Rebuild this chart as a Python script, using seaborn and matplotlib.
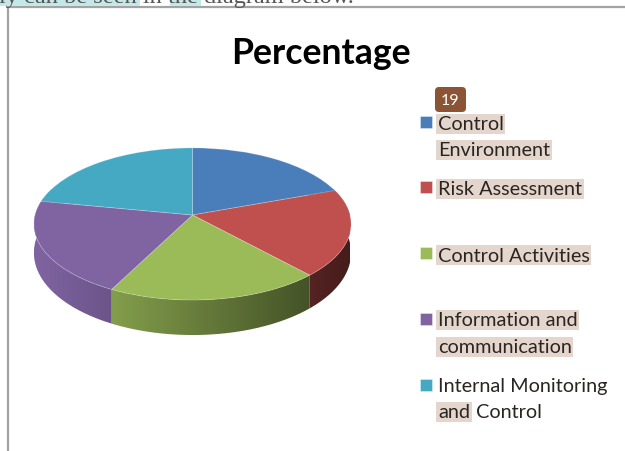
import matplotlib
matplotlib.use("Agg")
import matplotlib.pyplot as plt
import numpy as np
import seaborn as sns
from matplotlib.patches import FancyBboxPatch, PathPatch, Rectangle
from matplotlib.path import Path
from matplotlib.transforms import Transform

categories = ["Control Environment", "Risk Assessment", "Control Activities", "Information and communication", "Internal Monitoring and Control"]
percentages = [19.5, 18.6, 19.5, 20.4, 22.0]
slice_colors = ["#4a7ebb", "#c0504d", "#9bbb59", "#8064a2", "#45a9c4"]
badge_label = "19"
title_text = "Percentage"
caption_text = "ly can be seen in the diagram below."

CX, CY = 192.5, 216
RX, RY, TILT = 157.5, 75, 0.118
TEXT_BG = "#e4d6cc"
TEXT_INK = "#2a2522"


def project(xy):
    # pie units to image pixels, with a little perspective
    x, y = xy[:, 0], xy[:, 1]
    w = 1 + TILT * y
    return np.column_stack([CX + RX * x / w, CY - RY * y / w])


class PieTilt(Transform):
    input_dims = output_dims = 2
    is_affine = False

    def transform_non_affine(self, values):
        return project(np.asarray(values, dtype=float))


def draw_wall(ax, wedge, color):
    t = np.radians(np.linspace(wedge.theta1, wedge.theta2, 80))
    top = project(np.column_stack([np.cos(t), np.sin(t)]))
    depth = 28 - 7 * np.sin(t)
    bottom = top + np.column_stack([np.zeros_like(t), depth])
    outline = np.vstack([top, bottom[::-1], top[:1]])
    clip = PathPatch(Path(outline), transform=ax.transData, fc="none", ec="none")
    ax.add_patch(clip)

    xs = np.linspace(34, 350, 160)
    shade = np.interp(xs, [34, 350], [1.0, 0.36])
    rgb = np.array(matplotlib.colors.to_rgb(color))
    strip = (shade[:, None] * rgb)[None, :, :]
    im = ax.imshow(strip, extent=(34, 350, 345, 190), aspect="auto", zorder=2)
    im.set_clip_path(clip)


def label_line(ax, x, y, text, highlight=True):
    box = dict(fc=TEXT_BG, ec="none", pad=1.2) if highlight else None
    ax.text(x, y, text, fontsize=14.3, color=TEXT_INK, va="center", ha="left", bbox=box, zorder=5)


sns.set_theme(style="white")
plt.rcParams["font.family"] = ["Lato", "DejaVu Sans"]

fig = plt.figure(figsize=(6.25, 4.52), dpi=100)
ax = fig.add_axes([0, 0, 1, 1])

wedges, _ = ax.pie(percentages, colors=slice_colors, startangle=90, counterclock=False,
                   wedgeprops=dict(linewidth=0.6, edgecolor="#ffffff40"))
for wedge in wedges:
    wedge.set_transform(PieTilt() + ax.transData)
    wedge.set_zorder(3)
for wedge, color in zip(wedges, slice_colors):
    draw_wall(ax, wedge, color)

ax.set_aspect("auto")
ax.set_xlim(0, 625)
ax.set_ylim(452, 0)
ax.axis("off")

# page frame and the clipped line of text above it
ax.plot([8, 8, 625], [452, 8, 8], color="#a3a3a3", linewidth=1.6, zorder=1)
ax.add_patch(Rectangle((0, 0), 140, 7, fc="#c4e8e8", ec="none", zorder=1))
ax.add_patch(Rectangle((170, 0), 31, 7, fc="#c4e8e8", ec="none", zorder=1))
ax.text(-1, 3, caption_text, fontsize=17.6, family="Liberation Serif", color="#555555", va="baseline", zorder=2)

ax.text(321, 54, title_text, fontsize=25.7, fontweight="bold", color="black", ha="center", va="center")

# legend keys and labels
for color, y in zip(slice_colors, [123, 188, 254, 319.5, 385.5]):
    ax.add_patch(Rectangle((420, y - 6), 12, 12, fc=color, ec="#ffffff80", linewidth=0.5, zorder=4))

label_line(ax, 438, 125, "Control")
label_line(ax, 438, 151, "Environment")
label_line(ax, 438, 190, "Risk Assessment")
label_line(ax, 438, 256, "Control Activities")
label_line(ax, 438, 321, "Information and")
label_line(ax, 438, 348, "communication")
label_line(ax, 438, 387, "Internal Monitoring", highlight=False)
label_line(ax, 438, 413, "and")
label_line(ax, 476, 413, "Control", highlight=False)

ax.add_patch(FancyBboxPatch((438, 91), 25, 19, boxstyle="round,pad=3,rounding_size=4", fc="#8b5535", ec="none", zorder=6))
ax.text(450.5, 101, badge_label, fontsize=11.5, color="white", ha="center", va="center", zorder=7)

fig.savefig("out.png", dpi=100)
plt.close(fig)
